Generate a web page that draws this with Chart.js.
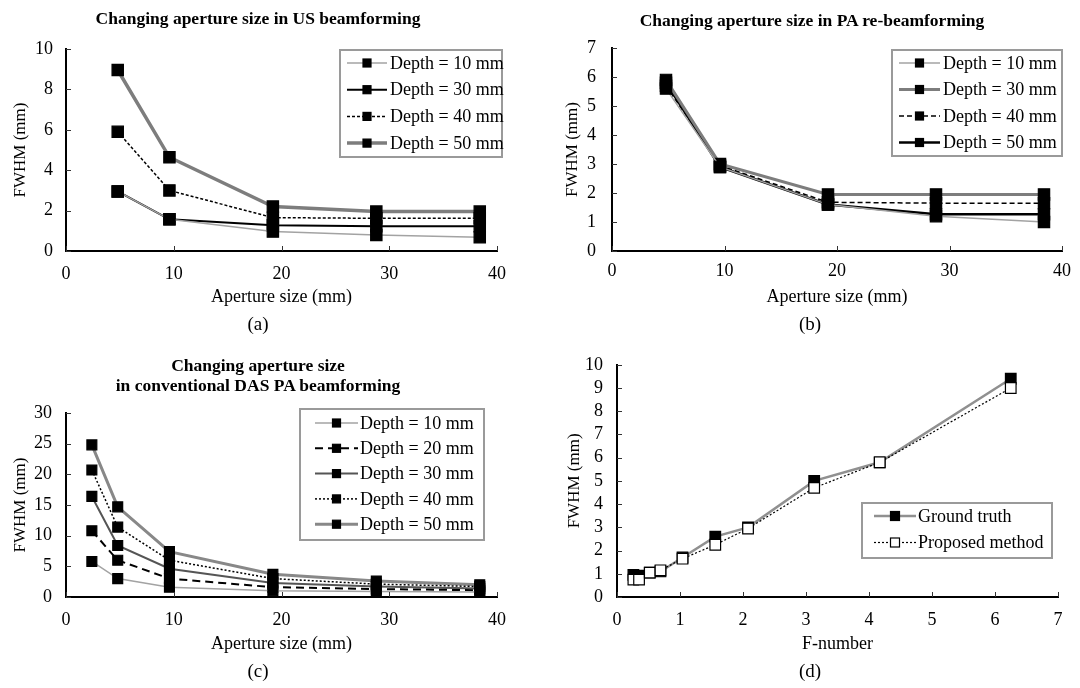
<!DOCTYPE html>
<html><head><meta charset="utf-8">
<script src="https://cdn.jsdelivr.net/npm/chart.js@4.4.0/dist/chart.umd.min.js"></script>
<style>
html,body{margin:0;padding:0;background:#fff;}
#wrap{position:relative;width:1080px;height:688px;overflow:hidden;background:#fff;font-family:'Liberation Serif','Times New Roman',serif;color:#000;}
canvas{position:absolute;}
.t{position:absolute;transform:translate(-50%,-50%);white-space:nowrap;line-height:1.15;text-align:center;}
.ttl{font-weight:bold;font-size:17.5px;}
.lbl{font-size:19px;}
</style></head><body>
<div id="wrap">
<canvas id="ca" width="540" height="340" style="left:0;top:0"></canvas>
<canvas id="cb" width="540" height="340" style="left:540px;top:0"></canvas>
<canvas id="cc" width="540" height="348" style="left:0;top:340px"></canvas>
<canvas id="cd" width="540" height="348" style="left:540px;top:340px"></canvas>
<div class="t ttl" style="left:258px;top:18px">Changing aperture size in US beamforming</div>
<div class="t ttl" style="left:812px;top:20px">Changing aperture size in PA re-beamforming</div>
<div class="t ttl" style="left:258px;top:375px">Changing aperture size<br>in conventional DAS PA beamforming</div>
<div class="t lbl" style="left:258px;top:324px">(a)</div>
<div class="t lbl" style="left:810px;top:324px">(b)</div>
<div class="t lbl" style="left:258px;top:671px">(c)</div>
<div class="t lbl" style="left:810px;top:671px">(d)</div>
</div>
<script>
// ---------- data ----------
const apertureAB = [4.8, 9.6, 19.2, 28.8, 38.4];
const apertureC = [2.4, 4.8, 9.6, 19.2, 28.8, 38.4];

const labelsA = ['Depth = 10 mm', 'Depth = 30 mm', 'Depth = 40 mm', 'Depth = 50 mm'];
const usDepth10 = [2.95, 1.57, 0.96, 0.79, 0.68];
const usDepth30 = [2.95, 1.57, 1.27, 1.22, 1.22];
const usDepth40 = [5.9, 3.0, 1.65, 1.62, 1.62];
const usDepth50 = [8.96, 4.64, 2.2, 1.95, 1.95];

const labelsB = ['Depth = 10 mm', 'Depth = 30 mm', 'Depth = 40 mm', 'Depth = 50 mm'];
const paReDepth10 = [5.6, 2.9, 1.6, 1.2, 1.0];
const paReDepth30 = [5.9, 3.0, 1.95, 1.95, 1.95];
const paReDepth40 = [5.7, 2.95, 1.68, 1.65, 1.65];
const paReDepth50 = [5.8, 2.9, 1.6, 1.27, 1.27];

const labelsC = ['Depth = 10 mm', 'Depth = 20 mm', 'Depth = 30 mm', 'Depth = 40 mm', 'Depth = 50 mm'];
const dasDepth10 = [5.8, 3.0, 1.6, 1.0, 0.9, 0.8];
const dasDepth20 = [10.8, 6.0, 3.0, 1.6, 1.3, 1.1];
const dasDepth30 = [16.4, 8.4, 4.6, 2.3, 1.7, 1.4];
const dasDepth40 = [20.7, 11.4, 6.0, 3.0, 2.1, 1.7];
const dasDepth50 = [24.8, 14.7, 7.4, 3.7, 2.6, 2.0];

const labelsD = ['Ground truth', 'Proposed method'];
const fNumber = [0.26, 0.35, 0.52, 0.69, 1.04, 1.56, 2.08, 3.13, 4.17, 6.25];
const groundTruth = [0.95, 0.92, 1.05, 1.1, 1.7, 2.6, 3.0, 5.0, 5.8, 9.4];
const proposed = [0.75, 0.75, 1.05, 1.15, 1.65, 2.25, 2.95, 4.7, 5.8, 9.0];

// ---------- helpers ----------
const FONT = "'Liberation Serif','Times New Roman',serif";
Chart.defaults.font.family = FONT;
Chart.defaults.font.size = 18;
Chart.defaults.color = '#000';

const pts = (xs, ys) => xs.map((x, i) => ({x: x, y: ys[i]}));

const boxLegend = {
  id: 'boxLegend',
  afterDraw(chart, args, o) {
    const ctx = chart.ctx;
    ctx.save();
    ctx.fillStyle = '#fff';
    ctx.fillRect(o.x, o.y, o.w, o.h);
    ctx.strokeStyle = '#9a9a9a';
    ctx.lineWidth = 2;
    ctx.strokeRect(o.x, o.y, o.w, o.h);
    chart.data.datasets.forEach((ds, i) => {
      const cy = o.y + o.first + i * o.step;
      const x0 = o.x + o.s0, x1 = o.x + o.s1;
      ctx.setLineDash(ds.borderDash || []);
      ctx.strokeStyle = ds.borderColor;
      ctx.lineWidth = ds.borderWidth;
      ctx.beginPath(); ctx.moveTo(x0, cy); ctx.lineTo(x1, cy); ctx.stroke();
      ctx.setLineDash([]);
      const m = o.marker, mx = (x0 + x1) / 2;
      ctx.fillStyle = ds.pointBackgroundColor;
      ctx.fillRect(mx - m / 2, cy - m / 2, m, m);
      ctx.strokeStyle = ds.pointBorderColor;
      ctx.lineWidth = ds.pointBorderWidth;
      ctx.strokeRect(mx - m / 2, cy - m / 2, m, m);
      ctx.fillStyle = '#000';
      ctx.font = o.fontSpec;
      ctx.textAlign = 'left';
      ctx.textBaseline = 'middle';
      ctx.fillText(ds.label, o.x + o.tx, cy + 1);
    });
    ctx.restore();
  }
};

const innerTicks = {
  id: 'innerTicks',
  afterDraw(chart) {
    const {ctx, chartArea: a, scales: {x, y}} = chart;
    ctx.save();
    ctx.strokeStyle = '#333';
    ctx.lineWidth = 1;
    x.ticks.forEach(t => {
      const p = Math.round(x.getPixelForValue(t.value)) + 0.5;
      ctx.beginPath(); ctx.moveTo(p, a.bottom); ctx.lineTo(p, a.bottom - 5); ctx.stroke();
    });
    y.ticks.forEach(t => {
      const p = Math.round(y.getPixelForValue(t.value)) + 0.5;
      ctx.beginPath(); ctx.moveTo(a.left, p); ctx.lineTo(a.left + 5, p); ctx.stroke();
    });
    ctx.restore();
  }
};

function series(label, xs, ys, color, width, dash, radius, fill, order) {
  return {
    label: label,
    data: pts(xs, ys),
    borderColor: color,
    borderWidth: width,
    borderDash: dash,
    pointStyle: 'rect',
    pointRadius: radius,
    pointBackgroundColor: fill || '#000',
    pointBorderColor: '#000',
    pointBorderWidth: 1.2,
    tension: 0,
    fill: false,
    order: order || 0
  };
}

function makeChart(id, g, datasets, xCfg, yCfg, xTitle, legendOpts) {
  const cv = document.getElementById(id);
  return new Chart(cv, {
    type: 'line',
    data: {datasets: datasets},
    options: {
      responsive: false,
      animation: false,
      devicePixelRatio: 1,
      events: [],
      layout: {padding: {left: 0, top: g.top, right: g.W - g.right, bottom: g.H - g.bottom - g.xh}},
      plugins: {
        legend: {display: false},
        tooltip: {enabled: false},
        boxLegend: legendOpts
      },
      scales: {
        x: {
          type: 'linear', min: xCfg.min, max: xCfg.max,
          grid: {display: false, drawTicks: false},
          border: {display: true, color: '#000', width: 2},
          ticks: {stepSize: xCfg.step, padding: g.xpad, font: {size: 18}, maxRotation: 0, autoSkip: false},
          title: {display: true, text: xTitle, font: {size: 18}, padding: {top: 0, bottom: 0}},
          afterFit: s => { s.height = g.xh; }
        },
        y: {
          min: yCfg.min, max: yCfg.max,
          grid: {display: false, drawTicks: false},
          border: {display: true, color: '#000', width: 2},
          ticks: {stepSize: yCfg.step, padding: g.ypad, font: {size: 18}, autoSkip: false},
          title: {display: true, text: 'FWHM (mm)', font: {size: 17}, padding: {top: g.ytp, bottom: 0}},
          afterFit: s => { s.width = g.left; }
        }
      }
    },
    plugins: [innerTicks, boxLegend]
  });
}

// (a)
makeChart('ca', {W: 540, H: 340, left: 66, right: 497, top: 49, bottom: 251, xh: 57, xpad: 12, ypad: 13, ytp: 10},
  [
    series(labelsA[0], apertureAB, usDepth10, '#a3a3a3', 1.5, [], 8),
    series(labelsA[1], apertureAB, usDepth30, '#000', 2, [], 8),
    series(labelsA[2], apertureAB, usDepth40, '#000', 1.5, [3, 2], 8),
    series(labelsA[3], apertureAB, usDepth50, '#7d7d7d', 3.5, [], 8)
  ],
  {min: 0, max: 40, step: 10}, {min: 0, max: 10, step: 2}, 'Aperture size (mm)',
  {x: 340, y: 50, w: 162, h: 107, first: 13, step: 26.7, s0: 7, s1: 47, tx: 50, marker: 8, fontSpec: '18px ' + FONT});

// (b)
makeChart('cb', {W: 540, H: 340, left: 72, right: 525, top: 48, bottom: 251, xh: 57, xpad: 9, ypad: 16, ytp: 22},
  [
    series(labelsB[0], apertureAB, paReDepth10, '#a3a3a3', 1.5, [], 8),
    series(labelsB[1], apertureAB, paReDepth30, '#7d7d7d', 3, [], 8),
    series(labelsB[2], apertureAB, paReDepth40, '#000', 1.5, [5, 3], 8),
    series(labelsB[3], apertureAB, paReDepth50, '#000', 2.5, [], 8)
  ],
  {min: 0, max: 40, step: 10}, {min: 0, max: 7, step: 1}, 'Aperture size (mm)',
  {x: 352, y: 50, w: 170, h: 106, first: 13, step: 26.5, s0: 7, s1: 48, tx: 51, marker: 8, fontSpec: '18px ' + FONT});

// (c)
makeChart('cc', {W: 540, H: 348, left: 66, right: 497, top: 73, bottom: 257, xh: 58, xpad: 12, ypad: 14, ytp: 10},
  [
    series(labelsC[0], apertureC, dasDepth10, '#a3a3a3', 1.5, [], 7),
    series(labelsC[1], apertureC, dasDepth20, '#000', 2, [8, 5], 7),
    series(labelsC[2], apertureC, dasDepth30, '#555', 2, [], 7),
    series(labelsC[3], apertureC, dasDepth40, '#000', 1.5, [2, 2], 7),
    series(labelsC[4], apertureC, dasDepth50, '#888', 3, [], 7)
  ],
  {min: 0, max: 40, step: 10}, {min: 0, max: 30, step: 5}, 'Aperture size (mm)',
  {x: 300, y: 69, w: 184, h: 131, first: 14, step: 25.3, s0: 15, s1: 58, tx: 60, marker: 8, fontSpec: '18px ' + FONT});

// (d)
makeChart('cd', {W: 540, H: 348, left: 77, right: 518, top: 20, bottom: 257, xh: 58, xpad: 12, ypad: 14, ytp: 24},
  [
    series(labelsD[0], fNumber, groundTruth, '#909090', 2.5, [], 7.5, '#000', 1),
    series(labelsD[1], fNumber, proposed, '#000', 1.2, [2, 2], 7.5, '#fff', 0)
  ],
  {min: 0, max: 7, step: 1}, {min: 0, max: 10, step: 1}, 'F-number',
  {x: 322, y: 163, w: 190, h: 55, first: 13, step: 26.5, s0: 12, s1: 54, tx: 56, marker: 9, fontSpec: '18px ' + FONT});
</script>
</body></html>
